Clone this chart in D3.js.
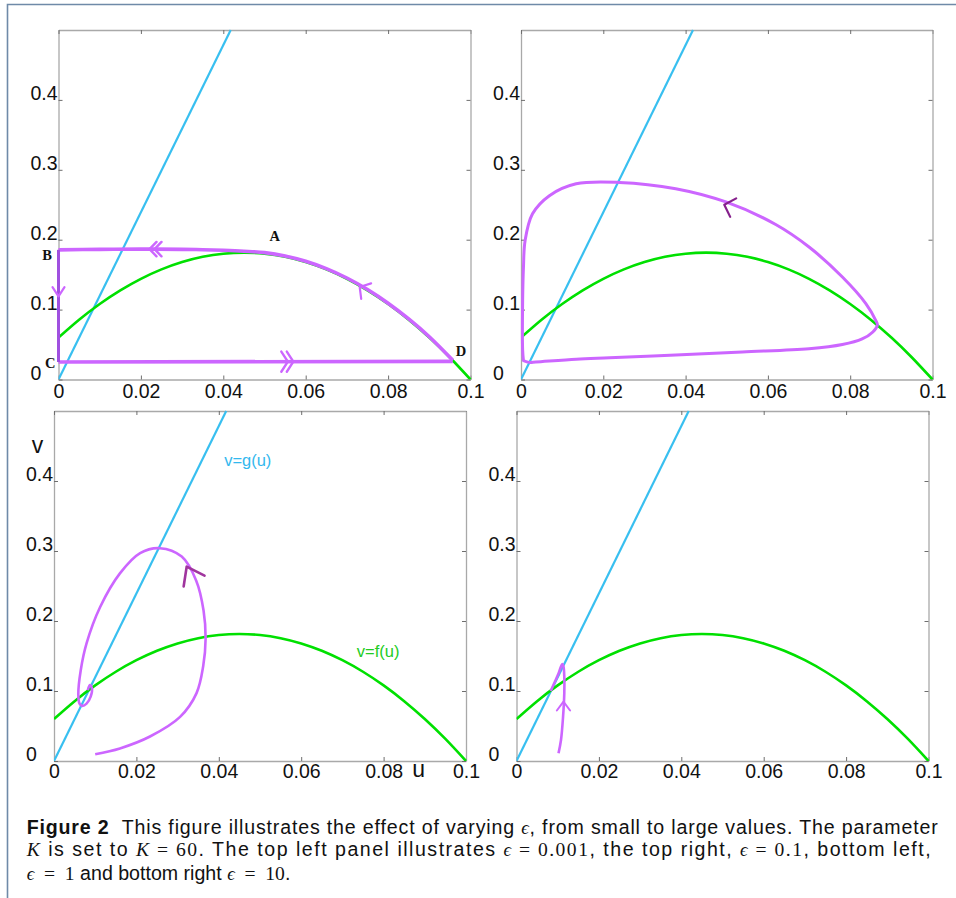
<!DOCTYPE html>
<html>
<head>
<meta charset="utf-8">
<script src="https://cdn.jsdelivr.net/npm/d3@7"></script>
<style>
  body { margin: 0; background: #fff; }
  svg { display: block; }
</style>
</head>
<body>
<div id="chart"></div>
<script>
// ---- axes ----
const uTicks = [0, 0.02, 0.04, 0.06, 0.08, 0.1];
const uTickLabels = ['0', '0.02', '0.04', '0.06', '0.08', '0.1'];
const vTicks = [0, 0.1, 0.2, 0.3, 0.4];
const vTickLabels = ['0', '0.1', '0.2', '0.3', '0.4'];

// ---- nullclines (same in all four panels) ----
// v = f(u)
const fU = [0, 0.005, 0.01, 0.015, 0.02, 0.025, 0.03, 0.035, 0.04, 0.045, 0.05,
            0.055, 0.06, 0.065, 0.07, 0.075, 0.08, 0.085, 0.09, 0.095, 0.1];
const fV = [0.0600, 0.0855, 0.1080, 0.1275, 0.1440, 0.1575, 0.1680, 0.1755, 0.1800, 0.1815, 0.1800,
            0.1755, 0.1680, 0.1575, 0.1440, 0.1275, 0.1080, 0.0855, 0.0600, 0.0315, 0.0000];
// v = g(u), a straight line through the origin
const gU = [0, 0.0418];
const gV = [0, 0.5];

// ---- trajectories, [u, v] ----
// eps = 0.001 : D -> A -> B, B -> C, C -> D
const tlSlow = [[0.0957, 0.0275], [0.09, 0.0612], [0.085, 0.0867], [0.08, 0.1092], [0.075, 0.1287],
                [0.07, 0.1452], [0.065, 0.1587], [0.06, 0.1692], [0.055, 0.1768], [0.05, 0.1815],
                [0.045, 0.1835], [0.04, 0.1848], [0.035, 0.1857], [0.03, 0.1862], [0.02, 0.1865],
                [0.01, 0.1862], [0, 0.1855]];
const tlJumpDown = [[0, 0.1855], [0, 0.025]];
const tlFast = [[0, 0.025], [0.0957, 0.026]];
// eps = 0.1 : closed loop
const trLoop = [[0.0006, 0.027], [0.002, 0.0245], [0.0036, 0.025], [0.0134, 0.029], [0.0215, 0.031],
                [0.0376, 0.035], [0.0538, 0.0395], [0.07, 0.044], [0.0781, 0.05], [0.0829, 0.058],
                [0.0855, 0.068], [0.0866, 0.078], [0.0862, 0.0847], [0.0838, 0.1086], [0.0781, 0.1466],
                [0.070, 0.1895], [0.0619, 0.2217], [0.0498, 0.254], [0.0376, 0.273], [0.0239, 0.282],
                [0.0134, 0.280], [0.0069, 0.263], [0.0028, 0.237], [0.001, 0.199], [0.0006, 0.161],
                [0.0004, 0.113], [0.0004, 0.042], [0.0006, 0.027]];
// eps = 1 : spiral into the equilibrium
const blSpiral = [[0.0100, 0.0096], [0.016, 0.018], [0.0233, 0.035], [0.0306, 0.063], [0.0346, 0.097],
                  [0.0362, 0.135], [0.0368, 0.175], [0.0363, 0.215], [0.0345, 0.258], [0.031, 0.292],
                  [0.0257, 0.304], [0.0209, 0.297], [0.016, 0.268], [0.0112, 0.220], [0.0079, 0.168],
                  [0.0065, 0.130], [0.0059, 0.095], [0.0062, 0.082], [0.0068, 0.0788], [0.0079, 0.082],
                  [0.0089, 0.092], [0.0092, 0.104], [0.0087, 0.1086], [0.0082, 0.101]];
// eps = 10
const brPath = [[0.0102, 0.011], [0.0108, 0.030], [0.0113, 0.063], [0.0116, 0.097], [0.0116, 0.120],
                [0.0114, 0.135], [0.0111, 0.1386], [0.0102, 0.125], [0.0083, 0.100]];

// ---- point labels, top left panel ----
const pointLabels = ['A', 'B', 'C', 'D'];
const pointLabelU = [0.0525, -0.0028, -0.002, 0.0977];
const pointLabelV = [0.198, 0.1714, 0.0166, 0.0333];

const W = 956, H = 898;
const purple = '#cc66ff';
const darkPurple = '#86208c';
const blue = '#38bff0';
const green = '#00e000';

// chevrons: at = tip, toward = direction of travel
const arrowsTL = [
  {at: [0.0221, 0.1865], toward: [0, 0.1865], len: 10, half: 46, count: 2, gap: 5, color: purple, w: 2.4},
  {at: [0.057, 0.0255], toward: [0.1, 0.0255], len: 12, half: 57, count: 2, gap: 5.5, color: purple, w: 2.4},
  {at: [0.0731, 0.1324], toward: [0.0695, 0.146], len: 12, half: 50, count: 1, color: purple, w: 2.2},
  {at: [0, 0.119], toward: [0, 0], len: 11, half: 33, count: 1, color: purple, w: 2.2}
];
const arrowsTR = [
  {at: [0.0494, 0.250], toward: [0.0376, 0.2725], len: 13.5, half: 46, count: 1, color: darkPurple, w: 2.2}
];
const arrowsBL = [
  {at: [0.0322, 0.2776], toward: [0.0305, 0.297], len: 20, half: 36, count: 1, color: '#a0359e', w: 2.6}
];
const arrowsBR = [
  {at: [0.0114, 0.0847], toward: [0.0114, 0.12], len: 11, half: 37, count: 1, color: purple, w: 2}
];

const panels = [
  {x0: 58.5, x1: 470.5, y0: 30, y1: 379.5, xPad: 5,
   paths: [{pts: tlFast, color: purple, w: 3.6, curve: d3.curveLinear},
           {pts: tlSlow, color: purple, w: 3.6, curve: d3.curveCatmullRom.alpha(0.5)},
           {pts: tlJumpDown, color: '#a050e0', w: 3, curve: d3.curveLinear}],
   arrows: arrowsTL, pointLabels: true},
  {x0: 521, x1: 932.5, y0: 30, y1: 379.5, xPad: 5,
   paths: [{pts: trLoop, color: purple, w: 3, curve: d3.curveCatmullRomClosed.alpha(0.5)}],
   arrows: arrowsTR},
  {x0: 54, x1: 466, y0: 411, y1: 761, xPad: 3.5,
   paths: [{pts: blSpiral, color: purple, w: 2.6, curve: d3.curveCatmullRom.alpha(0.5)}],
   arrows: arrowsBL, names: true},
  {x0: 516.5, x1: 928.5, y0: 411, y1: 761, xPad: 3.5,
   paths: [{pts: brPath, color: purple, w: 2.6, curve: d3.curveCatmullRom.alpha(0.5)}],
   arrows: arrowsBR}
];

const svg = d3.select('#chart').append('svg').attr('width', W).attr('height', H);

// page frame (top and left edge)
svg.append('path')
  .attr('d', `M7.5,${H} V4.5 H${W}`)
  .attr('fill', 'none').attr('stroke', '#6f8aa8').attr('stroke-width', 1.6);

const tickFont = '"Liberation Sans", Arial, sans-serif';
const tickSize = 19.5;

function drawArrow(g, x, y, a) {
  const tx = x(a.at[0]), ty = y(a.at[1]);
  const ang = Math.atan2(y(a.toward[1]) - ty, x(a.toward[0]) - tx);
  const back = ang + Math.PI;
  const h = a.half * Math.PI / 180;
  for (let k = 0; k < a.count; k++) {
    const px = tx - k * (a.gap || 0) * Math.cos(ang);
    const py = ty - k * (a.gap || 0) * Math.sin(ang);
    const p = d3.path();
    p.moveTo(px + a.len * Math.cos(back - h), py + a.len * Math.sin(back - h));
    p.lineTo(px, py);
    p.lineTo(px + a.len * Math.cos(back + h), py + a.len * Math.sin(back + h));
    g.append('path').attr('d', p.toString())
      .attr('fill', 'none').attr('stroke', a.color).attr('stroke-width', a.w)
      .attr('stroke-linecap', 'round').attr('stroke-linejoin', 'round');
  }
}

panels.forEach((p, pi) => {
  const x = d3.scaleLinear().domain([0, 0.1]).range([p.x0, p.x1]);
  const y = d3.scaleLinear().domain([0, 0.5]).range([p.y1, p.y0]);
  const g = svg.append('g');

  // axes on all four sides, ticks pointing inward
  const bottom = g.append('g').attr('transform', `translate(0,${p.y1})`)
    .call(d3.axisBottom(x).tickValues(uTicks).tickFormat((d, i) => uTickLabels[i])
      .tickSizeInner(-4).tickSizeOuter(0).tickPadding(p.xPad));
  bottom.selectAll('text').attr('font-family', tickFont).attr('font-size', tickSize).attr('fill', '#111');

  const left = g.append('g').attr('transform', `translate(${p.x0},0)`)
    .call(d3.axisLeft(y).tickValues(vTicks).tickFormat((d, i) => vTickLabels[i])
      .tickSizeInner(-4).tickSizeOuter(0));
  left.selectAll('text').attr('font-family', tickFont).attr('font-size', tickSize).attr('fill', '#111')
    .attr('text-anchor', 'start').attr('x', -28).attr('dy', null).attr('y', -0.5);

  g.append('g').attr('transform', `translate(0,${p.y0})`)
    .call(d3.axisTop(x).tickValues(uTicks).tickFormat('').tickSizeInner(-4).tickSizeOuter(0));
  g.append('g').attr('transform', `translate(${p.x1},0)`)
    .call(d3.axisRight(y).tickValues(vTicks).tickFormat('').tickSizeInner(-4).tickSizeOuter(0));

  g.selectAll('.domain').attr('stroke', '#a9a9a9').attr('stroke-width', 1.3);
  g.selectAll('.tick line').attr('stroke', '#6e6e6e');

  // clip for the curves
  const clipId = 'clip' + pi;
  svg.append('clipPath').attr('id', clipId).append('rect')
    .attr('x', p.x0).attr('y', p.y0 - 2).attr('width', p.x1 - p.x0 + 2).attr('height', p.y1 - p.y0 + 2);
  const plot = g.append('g').attr('clip-path', `url(#${clipId})`);

  const line = d3.line().x(d => x(d[0])).y(d => y(d[1]));

  plot.append('path').datum(d3.zip(gU, gV))
    .attr('d', line.curve(d3.curveLinear))
    .attr('fill', 'none').attr('stroke', blue).attr('stroke-width', 2.2);
  plot.append('path').datum(d3.zip(fU, fV))
    .attr('d', line.curve(d3.curveNatural))
    .attr('fill', 'none').attr('stroke', green).attr('stroke-width', 2.6);

  p.paths.forEach(s => {
    g.append('path').datum(s.pts)
      .attr('d', line.curve(s.curve))
      .attr('fill', 'none').attr('stroke', s.color).attr('stroke-width', s.w)
      .attr('stroke-linejoin', 'round').attr('stroke-linecap', 'butt');
  });

  p.arrows.forEach(a => drawArrow(g, x, y, a));

  if (p.pointLabels) {
    g.selectAll('.pt').data(pointLabels).join('text')
      .attr('x', (d, i) => x(pointLabelU[i])).attr('y', (d, i) => y(pointLabelV[i]))
      .attr('text-anchor', 'middle')
      .attr('font-family', '"Liberation Serif", "DejaVu Serif", serif')
      .attr('font-weight', 'bold').attr('font-size', 14.5).attr('fill', '#111')
      .text(d => d);
  }

  if (p.names) {
    g.append('text').attr('x', x(-0.004)).attr('y', y(0.4396)).attr('text-anchor', 'middle')
      .attr('font-family', tickFont).attr('font-size', 23).attr('fill', '#111').text('v');
    g.append('text').attr('x', x(0.0885)).attr('y', y(-0.0233)).attr('text-anchor', 'middle')
      .attr('font-family', tickFont).attr('font-size', 23).attr('fill', '#111').text('u');
    g.append('text').attr('x', x(0.0413)).attr('y', y(0.421))
      .attr('font-family', tickFont).attr('font-size', 16.5).attr('fill', '#33b8ee').text('v=g(u)');
    g.append('text').attr('x', x(0.0735)).attr('y', y(0.149))
      .attr('font-family', tickFont).attr('font-size', 16.5).attr('fill', '#22cc22').text('v=f(u)');
  }
});

// ---- caption ----
const captionLines = [
  [['Figure 2', 'b'], ['  This figure illustrates the effect of varying ', 's'], ['ϵ', 'm'],
   [', from small to large values. The parameter', 's']],
  [['K', 'k'], [' is set to ', 's'], ['K', 'k'], [' = 60', 'r'], ['. The top left panel illustrates ', 's'],
   ['ϵ', 'm'], [' = 0.001', 'r'], [', the top right, ', 's'], ['ϵ', 'm'], [' = 0.1', 'r'], [', bottom left,', 's']],
  [['ϵ', 'm'], ['  =  1', 'r'], [' and bottom right ', 's'], ['ϵ', 'm'], ['  =  10', 'r'], ['.', 's']]
];
const captionBaselines = [833.5, 855.5, 880];
const captionWidths = [911, 904, null];
const capX = 26.7;
const serif = '"Liberation Serif", "DejaVu Serif", serif';

const capTexts = captionLines.map((parts, li) => {
  const t = svg.append('text').attr('x', capX).attr('y', captionBaselines[li])
    .attr('fill', '#111').attr('xml:space', 'preserve').style('white-space', 'pre');
  parts.forEach(([txt, kind]) => {
    const ts = t.append('tspan').text(txt).attr('class', 'cap-' + kind);
    if (kind === 'b') ts.attr('font-family', tickFont).attr('font-weight', 'bold');
    else if (kind === 's') ts.attr('font-family', tickFont);
    else if (kind === 'm' || kind === 'k') ts.attr('font-family', serif).attr('font-style', 'italic');
    else ts.attr('font-family', serif);
  });
  return t;
});

// fit the font size so the first line spans the text block
function setCapSize(s) {
  svg.selectAll('.cap-b, .cap-s').attr('font-size', s);
  svg.selectAll('.cap-r, .cap-k').attr('font-size', s);
  svg.selectAll('.cap-m').attr('font-size', Math.min(s, 18.6));
}
setCapSize(18);
const w1 = capTexts[0].node().getComputedTextLength();
setCapSize(Math.min(19.6, 18 * captionWidths[0] / w1));
capTexts.forEach((t, i) => {
  if (captionWidths[i]) t.attr('textLength', captionWidths[i]).attr('lengthAdjust', 'spacing');
});
</script>
</body>
</html>
